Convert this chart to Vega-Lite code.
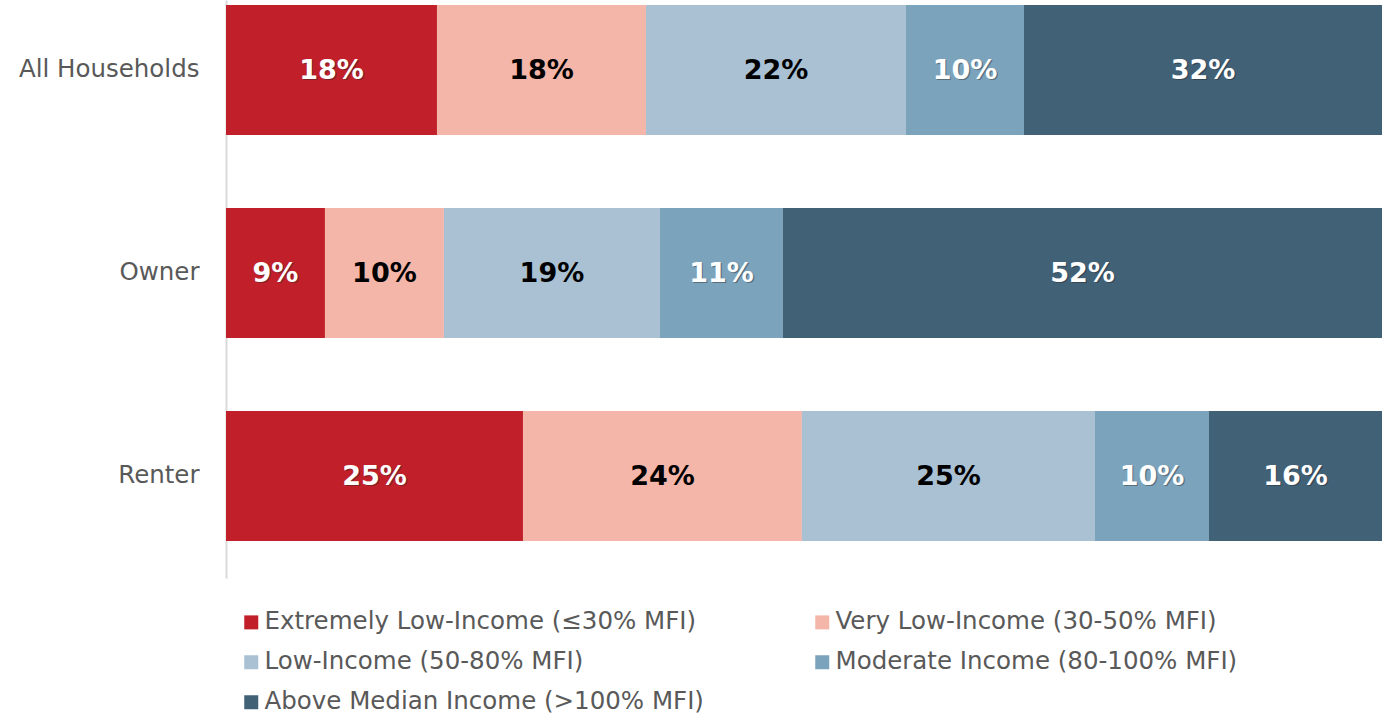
{
  "$schema": "https://vega.github.io/schema/vega-lite/v6.json",
  "width": 1156,
  "height": 578,
  "autosize": {"type": "none"},
  "padding": {"left": 226, "top": 0, "right": 0, "bottom": 142},
  "background": "white",
  "config": {"view": {"stroke": null}, "font": "DejaVu Sans"},
  "data": {
    "values": [
      {"category": "All Households", "group": "Extremely Low-Income (≤30% MFI)", "k": 1, "value": 18.25, "label": "18%"},
      {"category": "All Households", "group": "Very Low-Income (30-50% MFI)", "k": 2, "value": 18.08, "label": "18%"},
      {"category": "All Households", "group": "Low-Income (50-80% MFI)", "k": 3, "value": 22.49, "label": "22%"},
      {"category": "All Households", "group": "Moderate Income (80-100% MFI)", "k": 4, "value": 10.21, "label": "10%"},
      {"category": "All Households", "group": "Above Median Income (>100% MFI)", "k": 5, "value": 30.97, "label": "32%"},
      {"category": "Owner", "group": "Extremely Low-Income (≤30% MFI)", "k": 1, "value": 8.56, "label": "9%"},
      {"category": "Owner", "group": "Very Low-Income (30-50% MFI)", "k": 2, "value": 10.29, "label": "10%"},
      {"category": "Owner", "group": "Low-Income (50-80% MFI)", "k": 3, "value": 18.69, "label": "19%"},
      {"category": "Owner", "group": "Moderate Income (80-100% MFI)", "k": 4, "value": 10.64, "label": "11%"},
      {"category": "Owner", "group": "Above Median Income (>100% MFI)", "k": 5, "value": 51.82, "label": "52%"},
      {"category": "Renter", "group": "Extremely Low-Income (≤30% MFI)", "k": 1, "value": 25.69, "label": "25%"},
      {"category": "Renter", "group": "Very Low-Income (30-50% MFI)", "k": 2, "value": 24.13, "label": "24%"},
      {"category": "Renter", "group": "Low-Income (50-80% MFI)", "k": 3, "value": 25.35, "label": "25%"},
      {"category": "Renter", "group": "Moderate Income (80-100% MFI)", "k": 4, "value": 9.86, "label": "10%"},
      {"category": "Renter", "group": "Above Median Income (>100% MFI)", "k": 5, "value": 14.97, "label": "16%"}
    ]
  },
  "transform": [
    {"stack": "value", "groupby": ["category"], "sort": [{"field": "k", "order": "ascending"}], "as": ["v0", "v1"]},
    {"calculate": "(datum.v0 + datum.v1) / 2", "as": "mid"}
  ],
  "encoding": {
    "y": {
      "field": "category",
      "type": "nominal",
      "sort": ["All Households", "Owner", "Renter"],
      "scale": {"paddingInner": 0.36, "paddingOuter": 0.1035, "align": 0.12},
      "axis": {
        "title": null,
        "domain": true,
        "domainColor": "#d9d9d9",
        "domainWidth": 2,
        "ticks": false,
        "labelFontSize": 24.5,
        "labelColor": "#595959",
        "labelPadding": 27,
        "labelLimit": 300,
        "labelFont": "DejaVu Sans"
      }
    }
  },
  "layer": [
    {
      "mark": {"type": "bar"},
      "encoding": {
        "x": {"field": "v0", "type": "quantitative", "scale": {"domain": [0, 100]}, "axis": null},
        "x2": {"field": "v1"},
        "color": {
          "field": "group",
          "type": "nominal",
          "scale": {
            "domain": ["Extremely Low-Income (≤30% MFI)", "Very Low-Income (30-50% MFI)", "Low-Income (50-80% MFI)", "Moderate Income (80-100% MFI)", "Above Median Income (>100% MFI)"],
            "range": ["#C1202A", "#F4B6A9", "#A9C1D2", "#7BA3BB", "#416177"]
          },
          "legend": {
            "title": null,
            "orient": "none",
            "legendX": 13,
            "legendY": 610,
            "columns": 2,
            "columnPadding": 106,
            "rowPadding": 15,
            "padding": 0,
            "values": ["Extremely Low-Income (≤30% MFI)", "Low-Income (50-80% MFI)", "Above Median Income (>100% MFI)", "Very Low-Income (30-50% MFI)", "Moderate Income (80-100% MFI)"],
            "symbolType": "square",
            "symbolSize": 196,
            "symbolStrokeWidth": 0,
            "labelFontSize": 24.5,
            "labelColor": "#595959",
            "labelOffset": 1,
            "labelLimit": 700,
            "labelFont": "DejaVu Sans"
          }
        }
      }
    },
    {
      "transform": [{"filter": "datum.k === 1 || datum.k === 4 || datum.k === 5"}],
      "mark": {"type": "text", "fontSize": 27, "fontWeight": "bold", "dx": 1.2, "dy": 2.2, "opacity": 0.4, "baseline": "middle", "align": "center", "fill": "#222222"},
      "encoding": {
        "x": {"field": "mid", "type": "quantitative"},
        "text": {"field": "label"}
      }
    },
    {
      "mark": {"type": "text", "fontSize": 27, "fontWeight": "bold", "baseline": "middle", "align": "center", "dy": 1},
      "encoding": {
        "x": {"field": "mid", "type": "quantitative"},
        "text": {"field": "label"},
        "color": {
          "condition": {"test": "datum.k === 2 || datum.k === 3", "value": "#000000"},
          "value": "#ffffff"
        }
      }
    }
  ]
}
